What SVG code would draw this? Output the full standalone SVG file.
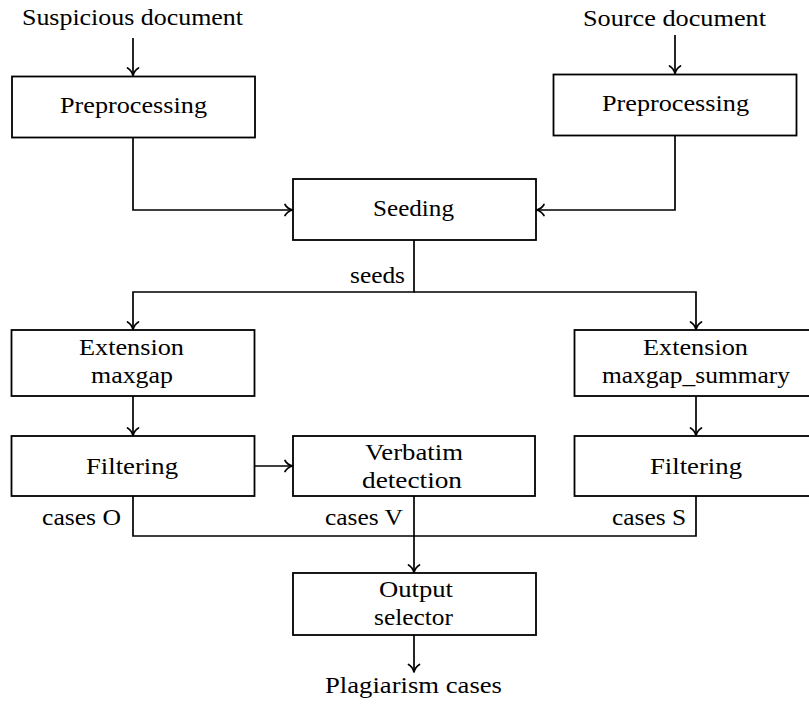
<svg xmlns="http://www.w3.org/2000/svg" width="809" height="705" viewBox="0 0 809 705">
<style>
.box{fill:#fff;stroke:#000;stroke-width:1.8}
.t{font-size:23px;fill:#000}
.c{fill:none;stroke:#000;stroke-width:1.7}
</style>
<defs>
<marker id="ah" viewBox="-9 -7 11 14" refX="0" refY="0" markerWidth="11" markerHeight="14" markerUnits="userSpaceOnUse" orient="auto">
<path d="M -7.5 -5.5 C -5.8 -2.5 -2.5 -0.7 0 0 C -2.5 0.7 -5.8 2.5 -7.5 5.5" fill="none" stroke="#000" stroke-width="1.7" stroke-linecap="round" stroke-linejoin="round"/>
</marker>
</defs>
<rect width="809" height="705" fill="#fff"/>
<g id="connectors">
<path class="c" d="M133 38 V75.5" marker-end="url(#ah)"/>
<path class="c" d="M675 35 V73.5" marker-end="url(#ah)"/>
<path class="c" d="M133 137 V210 H292.5" marker-end="url(#ah)"/>
<path class="c" d="M675 135 V210 H536.5" marker-end="url(#ah)"/>
<path class="c" d="M414 240 V292 H133 V329.5" marker-end="url(#ah)"/>
<path class="c" d="M414 292 H696 V329.5" marker-end="url(#ah)"/>
<path class="c" d="M133 396 V435.5" marker-end="url(#ah)"/>
<path class="c" d="M696 396 V435.5" marker-end="url(#ah)"/>
<path class="c" d="M255 466 H292.5" marker-end="url(#ah)"/>
<path class="c" d="M133 496 V536 H414"/>
<path class="c" d="M696 496 V536 H414"/>
<path class="c" d="M414 496 V572.5" marker-end="url(#ah)"/>
<path class="c" d="M414 635 V672" marker-end="url(#ah)"/>
</g>
<g font-family="Liberation Serif, DejaVu Serif, serif">
<g id="suspicious"><text class="t" x="22" y="25" textLength="221" lengthAdjust="spacingAndGlyphs">Suspicious document</text></g>
<g id="source"><text class="t" x="583" y="26" textLength="183" lengthAdjust="spacingAndGlyphs">Source document</text></g>
<g id="prepL"><rect class="box" x="12" y="76.5" width="243" height="61"/><text class="t" x="60" y="113" textLength="147" lengthAdjust="spacingAndGlyphs">Preprocessing</text></g>
<g id="prepR"><rect class="box" x="553.5" y="74.5" width="243" height="61"/><text class="t" x="602" y="111" textLength="147" lengthAdjust="spacingAndGlyphs">Preprocessing</text></g>
<g id="seeding"><rect class="box" x="293" y="179" width="243" height="61"/><text class="t" x="373" y="216" textLength="81" lengthAdjust="spacingAndGlyphs">Seeding</text></g>
<g id="seedsLabel"><text class="t" x="350" y="283" textLength="55" lengthAdjust="spacingAndGlyphs">seeds</text></g>
<g id="extL"><rect class="box" x="11.5" y="330" width="243" height="66"/><text class="t" x="79" y="355" textLength="105" lengthAdjust="spacingAndGlyphs">Extension</text><text class="t" x="91" y="383" textLength="82" lengthAdjust="spacingAndGlyphs">maxgap</text></g>
<g id="extR"><rect class="box" x="574.5" y="330" width="243" height="66"/><text class="t" x="643" y="355" textLength="105" lengthAdjust="spacingAndGlyphs">Extension</text><text class="t" x="602" y="383" textLength="188" lengthAdjust="spacingAndGlyphs">maxgap_summary</text></g>
<g id="filtL"><rect class="box" x="11.5" y="436" width="243" height="60"/><text class="t" x="86" y="474" textLength="92" lengthAdjust="spacingAndGlyphs">Filtering</text></g>
<g id="verbatim"><rect class="box" x="293" y="436" width="242" height="60"/><text class="t" x="365" y="460" textLength="98" lengthAdjust="spacingAndGlyphs">Verbatim</text><text class="t" x="362" y="488" textLength="100" lengthAdjust="spacingAndGlyphs">detection</text></g>
<g id="filtR"><rect class="box" x="574.5" y="436" width="243" height="60"/><text class="t" x="650" y="474" textLength="92" lengthAdjust="spacingAndGlyphs">Filtering</text></g>
<g id="casesO"><text class="t" x="42" y="525" textLength="79" lengthAdjust="spacingAndGlyphs">cases O</text></g>
<g id="casesV"><text class="t" x="325" y="525" textLength="78" lengthAdjust="spacingAndGlyphs">cases V</text></g>
<g id="casesS"><text class="t" x="612" y="525" textLength="74" lengthAdjust="spacingAndGlyphs">cases S</text></g>
<g id="output"><rect class="box" x="293" y="573" width="243" height="62"/><text class="t" x="379" y="597" textLength="74" lengthAdjust="spacingAndGlyphs">Output</text><text class="t" x="374" y="625" textLength="79" lengthAdjust="spacingAndGlyphs">selector</text></g>
<g id="plagiarism"><text class="t" x="325" y="693" textLength="177" lengthAdjust="spacingAndGlyphs">Plagiarism cases</text></g>
</g>
</svg>
